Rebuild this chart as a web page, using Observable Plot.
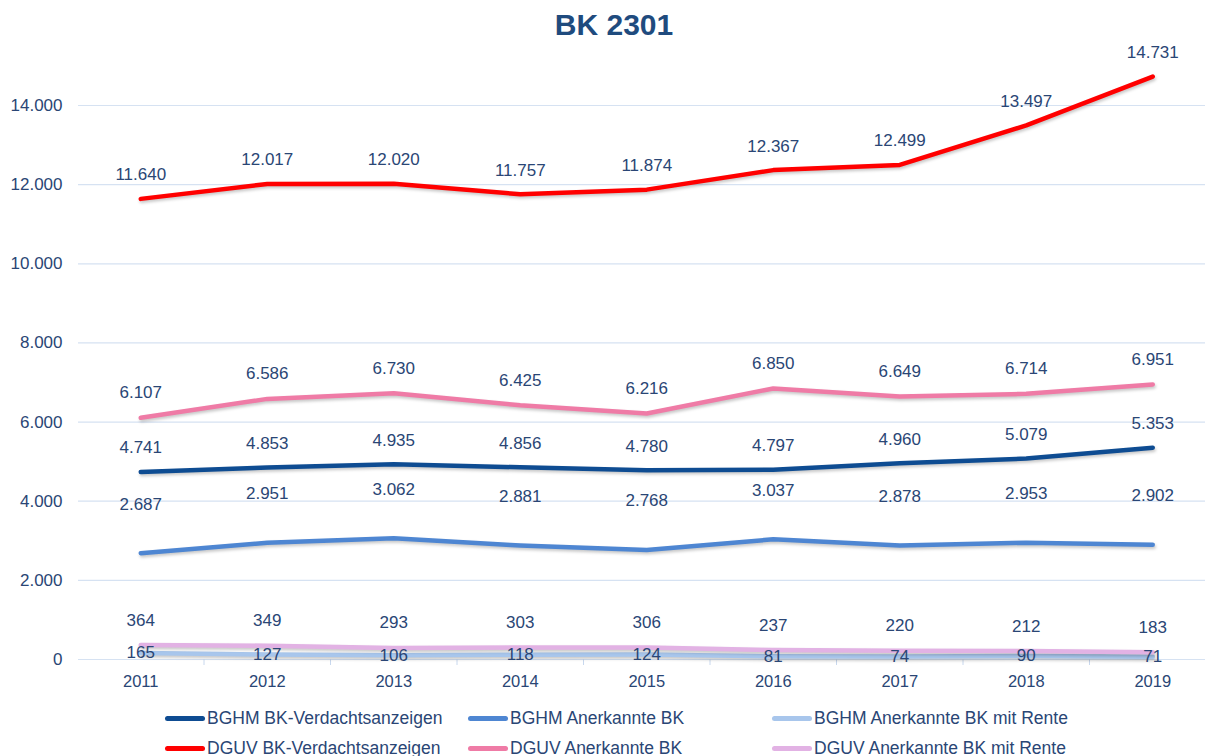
<!DOCTYPE html>
<html>
<head>
<meta charset="utf-8">
<script src="https://cdn.jsdelivr.net/npm/d3@7"></script>
<script src="https://cdn.jsdelivr.net/npm/@observablehq/plot@0.6"></script>
<style>
  html, body { margin: 0; padding: 0; background: #fff; }
  body { width: 1205px; height: 756px; overflow: hidden; position: relative; font-family: "Liberation Sans", Arial, sans-serif; }
  #title { position: absolute; left: 0; top: 0; width: 1228px; height: 50px; line-height: 50px; text-align: center; font-size: 30px; font-weight: bold; color: #1F4B7E; }
  #chart { position: absolute; left: 0; top: 50px; }
  #chart svg { font-family: "Liberation Sans", Arial, sans-serif; color: #2a4675; overflow: visible; }
  #chart g[aria-label="line"] path { filter: drop-shadow(1px 2px 1.5px rgba(0,0,0,0.22)); }
  #legend { position: absolute; left: 165px; top: 703px; display: grid; grid-template-columns: 303px 304px auto; grid-auto-rows: 30px; }
  .item { display: flex; align-items: center; font-size: 17.5px; color: #2a4675; white-space: nowrap; }
  .swatch { width: 40px; height: 5px; border-radius: 3px; margin-right: 2px; }
</style>
</head>
<body>
<div id="title">BK 2301</div>
<div id="chart"></div>
<div id="legend"></div>
<script>
const years = [2011, 2012, 2013, 2014, 2015, 2016, 2017, 2018, 2019];
const seriesNames = [
  "BGHM BK-Verdachtsanzeigen",
  "BGHM Anerkannte BK",
  "BGHM Anerkannte BK mit Rente",
  "DGUV BK-Verdachtsanzeigen",
  "DGUV Anerkannte BK",
  "DGUV Anerkannte BK mit Rente"
];
const bghmVerdacht = [4741, 4853, 4935, 4856, 4780, 4797, 4960, 5079, 5353];
const bghmAnerkannt = [2687, 2951, 3062, 2881, 2768, 3037, 2878, 2953, 2902];
const bghmRente = [165, 127, 106, 118, 124, 81, 74, 90, 71];
const dguvVerdacht = [11640, 12017, 12020, 11757, 11874, 12367, 12499, 13497, 14731];
const dguvAnerkannt = [6107, 6586, 6730, 6425, 6216, 6850, 6649, 6714, 6951];
const dguvRente = [364, 349, 293, 303, 306, 237, 220, 212, 183];
const yTicks = [0, 2000, 4000, 6000, 8000, 10000, 12000, 14000];

const seriesValues = [bghmVerdacht, bghmAnerkannt, bghmRente, dguvVerdacht, dguvAnerkannt, dguvRente];
const colors = ["#0E4C92", "#4E86D2", "#A8C6EC", "#FF0000", "#EF7BA6", "#E2B2E4"];
const labelDy = [-24, -49, 0, -24, -25, -25];

const locale = d3.formatLocale({decimal: ",", thousands: ".", grouping: [3], currency: ["", " €"]});
const fmt = locale.format(",d");

const rows = [];
seriesNames.forEach((s, i) => years.forEach((yr, j) => rows.push({series: s, idx: i, year: yr, value: seriesValues[i][j]})));

const boundaries = years.slice(0, -1).map(y => y + 0.5);

const marks = [
  Plot.gridY(yTicks, {stroke: "#D6E2F2", strokeOpacity: 1, strokeWidth: 1.2}),
  Plot.axisY(yTicks, {tickSize: 0, tickPadding: 16, tickFormat: fmt, fontSize: 17, label: null}),
  Plot.axisX(years, {tickSize: 0, tickPadding: 16, tickFormat: d => String(d), fontSize: 16.5, label: null}),
  Plot.axisX(boundaries, {tickSize: 6, text: null, stroke: "#C8D8EE", label: null}),
];
seriesNames.forEach((s, i) => {
  marks.push(Plot.line(rows.filter(r => r.idx === i), {x: "year", y: "value", stroke: colors[i], strokeWidth: 4.5, curve: "linear", strokeLinecap: "round", strokeLinejoin: "round"}));
});
seriesNames.forEach((s, i) => {
  marks.push(Plot.text(rows.filter(r => r.idx === i), {x: "year", y: "value", text: d => fmt(d.value), dy: labelDy[i], fill: "#2a4675", fontSize: 17}));
});

const chart = Plot.plot({
  width: 1205,
  height: 645,
  marginLeft: 78,
  marginRight: 0,
  marginTop: 55,
  marginBottom: 36,
  x: {domain: [2010.5, 2019.5], range: [77, 1215.5], axis: null},
  y: {domain: [0, 14000], axis: null},
  marks
});
document.getElementById("chart").appendChild(chart);

const legend = document.getElementById("legend");
seriesNames.forEach((s, i) => {
  const item = document.createElement("div");
  item.className = "item";
  const sw = document.createElement("span");
  sw.className = "swatch";
  sw.style.background = colors[i];
  item.appendChild(sw);
  item.appendChild(document.createTextNode(s));
  legend.appendChild(item);
});
</script>
</body>
</html>
